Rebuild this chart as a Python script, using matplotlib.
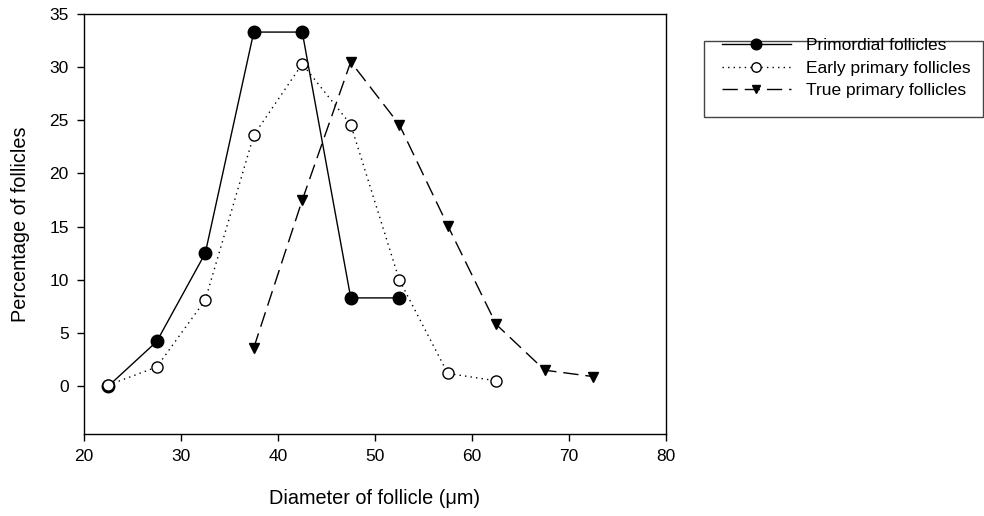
import matplotlib
matplotlib.use("Agg")
import matplotlib.pyplot as plt
from matplotlib.patches import Rectangle

plt.rcParams['font.family'] = ['Liberation Sans', 'DejaVu Sans']

# Data
x_primordial = [22.5, 27.5, 32.5, 37.5, 42.5, 47.5, 52.5]
y_primordial = [0.0, 4.2, 12.5, 33.3, 33.3, 8.3, 8.3]

x_early = [22.5, 27.5, 32.5, 37.5, 42.5, 47.5, 52.5, 57.5, 62.5]
y_early = [0.1, 1.8, 8.1, 23.6, 30.3, 24.6, 10.0, 1.2, 0.5]

x_true = [37.5, 42.5, 47.5, 52.5, 57.5, 62.5, 67.5, 72.5]
y_true = [3.6, 17.5, 30.5, 24.6, 15.1, 5.8, 1.5, 0.9]

labels = ["Primordial follicles", "Early primary follicles", "True primary follicles"]
x_ticks = [20, 30, 40, 50, 60, 70, 80]
y_ticks = [0, 5, 10, 15, 20, 25, 30, 35]

W, H = 984, 516
fig = plt.figure(figsize=(W / 100, H / 100), dpi=100)
ax = fig.add_axes([84 / W, 1 - 434 / H, (666 - 84) / W, (434 - 14) / H])

l1, = ax.plot(x_primordial, y_primordial, color='black', lw=1.0, ls='-',
              marker='o', ms=9, mfc='black', mec='black', zorder=3)
l2, = ax.plot(x_early, y_early, color='black', lw=1.0, ls=(0, (1, 3)),
              marker='o', ms=8, mfc='white', mec='black', mew=1.0, zorder=4)
l3, = ax.plot(x_true, y_true, color='black', lw=1.0, ls=(0, (11, 5)),
              marker='v', ms=7.5, mfc='black', mec='black', zorder=3)

ax.set_xlim(20, 80)
ax.set_ylim(-4.5, 35)
ax.set_xticks(x_ticks)
ax.set_yticks(y_ticks)
ax.tick_params(direction='out', length=5, width=1, labelsize=12.5, pad=6)
for s in ax.spines.values():
    s.set_linewidth(1.0)

ax.set_xlabel("Diameter of follicle (\u03bcm)", fontsize=14.3, labelpad=18)
ax.set_ylabel("Percentage of follicles", fontsize=14.3, labelpad=14)

# Legend
fig.patches.append(Rectangle((704 / W, 1 - 117 / H), (983 - 704) / W, (117 - 41) / H,
                             transform=fig.transFigure, fill=False,
                             edgecolor='#444444', lw=1.0))
fig.legend([l1, l2, l3], labels, loc='center left',
           bbox_to_anchor=(713 / W, 1 - 68 / H), bbox_transform=fig.transFigure,
           frameon=False, fontsize=12.5, handlelength=4.0, handletextpad=0.85,
           labelspacing=0.42, borderpad=0, markerscale=0.85)

fig.savefig("out.png", dpi=100)
